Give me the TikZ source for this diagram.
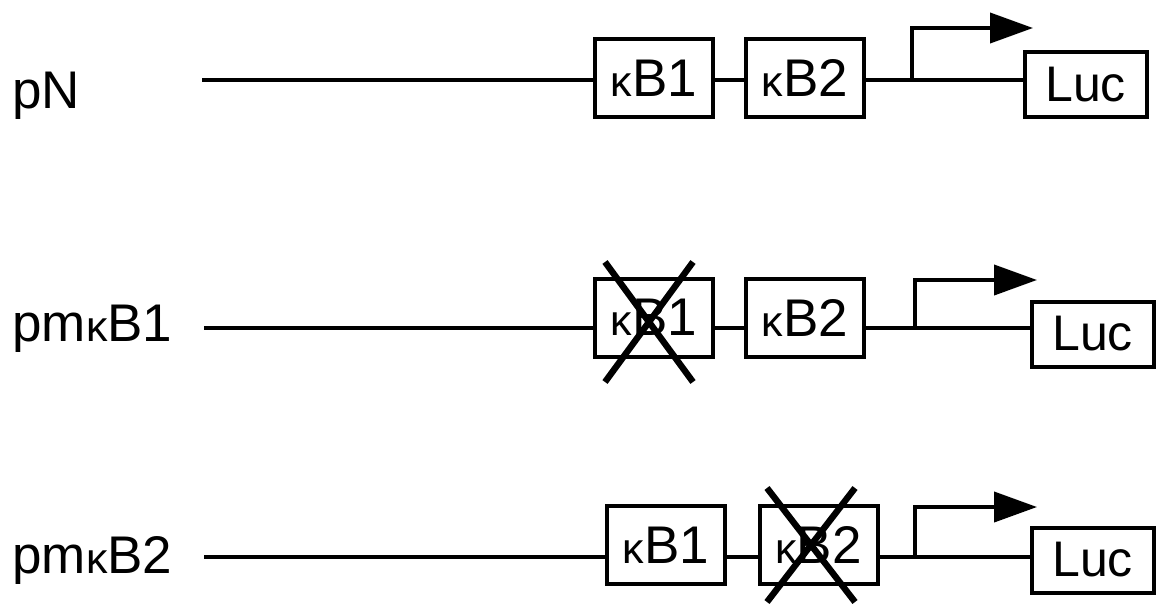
\documentclass[tikz,border=0pt]{standalone}
\usepackage{fontspec}
\setmainfont{Liberation Sans}
\usetikzlibrary{arrows.meta}
% small kappa used in the element names
\newcommand\kp{{\fontsize{21.5pt}{21.5pt}\selectfont κ}}

\begin{document}
\begin{tikzpicture}[x=0.5pt,y=-0.5pt,
  elem/.style={draw, line width=2pt, inner sep=0pt, minimum width=59pt, minimum height=39pt,
               font=\fontsize{26.5pt}{30pt}\selectfont},
  lucbox/.style={elem, minimum width=61pt, minimum height=32.5pt,
               font=\fontsize{25pt}{28pt}\selectfont},
  lbl/.style={anchor=base west, inner sep=0pt, font=\fontsize{26.5pt}{30pt}\selectfont},
  dna/.style={line width=2pt},
  tss/.style={line width=2pt, -{Triangle[length=21.5pt,width=15pt]}},
  knock/.style={line width=3.2pt}]
\useasboundingbox (0,0) rectangle (1156,605);

% ---------- construct pN ----------
\node[lbl] (l1) at (12,108) {pN};
\coordinate (s1) at (202,80);
\node[elem] (a1) at (654,78) {\kp B1};
\node[elem] (b1) at (805,78) {\kp B2};
\node[lucbox] (c1) at (1085.5,84.5) {Luc};
\coordinate (p1) at (912,80);
\coordinate (t1) at (1033,28);
\draw[dna] (s1) -- (s1 -| a1.west);
\draw[dna] (a1.east |- s1) -- (s1 -| b1.west);
\draw[dna] (b1.east |- s1) -- (s1 -| c1.west);
\draw[tss] (p1) |- (t1);

% ---------- construct pm-kB1 ----------
\node[lbl] (l2) at (12,341) {pm\kp B1};
\coordinate (s2) at (204,328);
\node[elem] (a2) at (654,317.5) {\kp B1};
\node[elem] (b2) at (805,317.5) {\kp B2};
\node[lucbox] (c2) at (1092.5,334) {Luc};
\coordinate (p2) at (915,328);
\coordinate (t2) at (1037,280);
\draw[dna] (s2) -- (s2 -| a2.west);
\draw[dna] (a2.east |- s2) -- (s2 -| b2.west);
\draw[dna] (b2.east |- s2) -- (s2 -| c2.west);
\draw[tss] (p2) |- (t2);
\coordinate (x2a) at (605,262);
\coordinate (x2b) at (693,382);
\coordinate (x2c) at (693,262);
\coordinate (x2d) at (605,382);
\draw[knock] (x2a) -- (x2b);
\draw[knock] (x2c) -- (x2d);

% ---------- construct pm-kB2 ----------
\node[lbl] (l3) at (12,573) {pm\kp B2};
\coordinate (s3) at (204,557);
\node[elem] (a3) at (666,545) {\kp B1};
\node[elem] (b3) at (818.5,545) {\kp B2};
\node[lucbox] (c3) at (1092.5,560) {Luc};
\coordinate (p3) at (915,557);
\coordinate (t3) at (1037,507);
\draw[dna] (s3) -- (s3 -| a3.west);
\draw[dna] (a3.east |- s3) -- (s3 -| b3.west);
\draw[dna] (b3.east |- s3) -- (s3 -| c3.west);
\draw[tss] (p3) |- (t3);
\coordinate (x3a) at (767,488);
\coordinate (x3b) at (855,602);
\coordinate (x3c) at (855,488);
\coordinate (x3d) at (767,602);
\draw[knock] (x3a) -- (x3b);
\draw[knock] (x3c) -- (x3d);
\end{tikzpicture}
\end{document}
